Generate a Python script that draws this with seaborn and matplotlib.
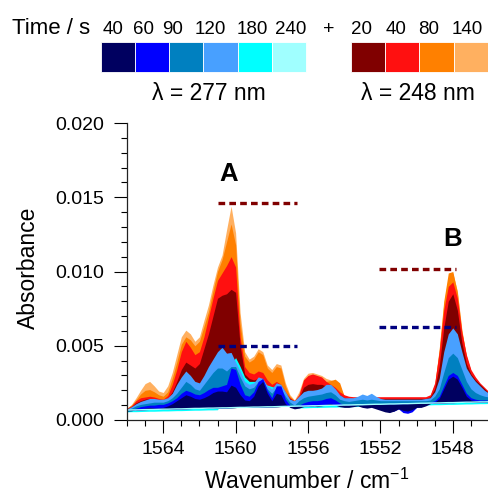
import numpy as np
import matplotlib
matplotlib.use("Agg")
import matplotlib.pyplot as plt
from matplotlib.ticker import MultipleLocator, FormatStrFormatter
import seaborn as sns

# wavenumber grid (cm-1)
wn = [1566.0, 1565.75, 1565.5, 1565.25, 1565.0, 1564.75, 1564.5, 1564.25, 1564.0, 1563.75,
      1563.5, 1563.25, 1563.0, 1562.75, 1562.5, 1562.25, 1562.0, 1561.75, 1561.5, 1561.25,
      1561.0, 1560.75, 1560.5, 1560.25, 1560.0, 1559.75, 1559.5, 1559.25, 1559.0, 1558.75,
      1558.5, 1558.25, 1558.0, 1557.75, 1557.5, 1557.25, 1557.0, 1556.75, 1556.5, 1556.25,
      1556.0, 1555.75, 1555.5, 1555.25, 1555.0, 1554.75, 1554.5, 1554.25, 1554.0, 1553.75,
      1553.5, 1553.25, 1553.0, 1552.75, 1552.5, 1552.25, 1552.0, 1551.75, 1551.5, 1551.25,
      1551.0, 1550.75, 1550.5, 1550.25, 1550.0, 1549.75, 1549.5, 1549.25, 1549.0, 1548.75,
      1548.5, 1548.25, 1548.0, 1547.75, 1547.5, 1547.25, 1547.0, 1546.75, 1546.5, 1546.25,
      1546.0]

# absorbance in mAU, lambda = 248 nm (times 20, 40, 80, 140 s)
r140 = [0.80, 1.05, 1.50, 2.00, 2.45, 2.60, 2.30, 1.95, 1.85, 2.30,
        3.20, 4.40, 5.60, 6.05, 5.80, 5.30, 5.60, 6.70, 7.75, 9.10,
        10.3, 11.1, 12.8, 14.4, 12.6, 7.20, 4.60, 4.10, 4.30, 4.80,
        4.60, 3.70, 3.40, 3.80, 3.70, 2.50, 1.70, 1.35, 1.90, 2.80,
        3.15, 3.20, 3.10, 3.00, 2.80, 2.70, 2.65, 2.30, 1.60, 1.45,
        1.45, 1.45, 1.45, 1.45, 1.45, 1.45, 1.45, 1.45, 1.45, 1.45,
        1.45, 1.45, 1.45, 1.45, 1.45, 1.45, 1.45, 1.60, 2.30, 4.70,
        7.80, 9.60, 9.90, 8.70, 6.10, 4.30, 3.30, 2.80, 2.40, 2.10,
        1.85]
r80 = [0.80, 1.00, 1.35, 1.75, 2.00, 2.05, 1.90, 1.70, 1.60, 1.90,
       2.80, 3.90, 5.10, 5.60, 5.40, 5.00, 5.30, 6.30, 7.30, 8.70,
       10.0, 10.8, 12.0, 13.2, 11.8, 6.50, 4.30, 3.90, 4.10, 4.60,
       4.40, 3.50, 3.20, 3.60, 3.50, 2.30, 1.60, 1.30, 1.70, 2.50,
       2.80, 2.80, 2.70, 2.60, 2.60, 2.65, 2.75, 2.50, 1.60, 1.50,
       1.50, 1.50, 1.50, 1.50, 1.50, 1.50, 1.50, 1.50, 1.50, 1.50,
       1.50, 1.50, 1.50, 1.50, 1.50, 1.50, 1.50, 1.65, 2.40, 4.80,
       8.00, 9.90, 10.0, 8.60, 6.00, 4.30, 3.30, 2.80, 2.40, 2.10,
       1.85]
r40 = [0.80, 0.95, 1.30, 1.50, 1.55, 1.60, 1.55, 1.45, 1.40, 1.65,
       2.40, 3.40, 4.60, 5.30, 4.90, 4.40, 4.60, 5.60, 6.90, 8.20,
       9.40, 9.90, 10.4, 11.0, 10.3, 5.60, 3.60, 3.20, 3.10, 3.30,
       3.20, 2.70, 2.40, 2.60, 2.40, 1.90, 1.50, 1.30, 1.70, 2.70,
       3.00, 3.10, 3.00, 2.90, 2.60, 2.40, 2.20, 1.90, 1.70, 1.60,
       1.57, 1.57, 1.57, 1.57, 1.57, 1.57, 1.57, 1.57, 1.57, 1.57,
       1.57, 1.57, 1.57, 1.57, 1.57, 1.57, 1.57, 1.70, 2.50, 4.60,
       7.40, 9.00, 9.30, 8.20, 5.90, 4.40, 3.40, 2.90, 2.50, 2.20,
       1.90]
r20 = [0.75, 0.90, 1.15, 1.30, 1.40, 1.45, 1.40, 1.35, 1.30, 1.45,
       1.90, 2.60, 3.40, 3.90, 3.70, 3.50, 3.80, 4.80, 5.80, 7.00,
       8.20, 8.40, 8.50, 8.80, 8.60, 5.00, 3.10, 2.80, 2.70, 2.80,
       2.70, 2.30, 2.20, 2.30, 2.20, 1.80, 1.45, 1.25, 1.50, 2.20,
       2.40, 2.45, 2.40, 2.40, 2.30, 2.10, 1.90, 1.70, 1.50, 1.45,
       1.45, 1.45, 1.45, 1.45, 1.45, 1.45, 1.45, 1.45, 1.45, 1.45,
       1.45, 1.45, 1.45, 1.45, 1.45, 1.45, 1.45, 1.55, 2.10, 3.60,
       6.20, 8.00, 8.50, 7.40, 5.20, 3.80, 3.10, 2.70, 2.40, 2.10,
       1.80]

# lambda = 277 nm (times 40, 60, 90, 120, 180, 240 s)
b240 = [0.67, 0.68, 0.68, 0.69, 0.70, 0.71, 0.71, 0.72, 0.73, 0.73,
        0.74, 0.75, 0.75, 0.76, 0.77, 0.78, 0.78, 0.79, 0.80, 0.80,
        0.81, 0.82, 0.82, 0.83, 0.84, 0.85, 0.85, 0.86, 0.87, 0.87,
        0.88, 0.89, 0.89, 0.90, 0.91, 0.92, 0.92, 0.93, 0.94, 0.94,
        0.95, 0.96, 0.96, 0.97, 0.98, 0.99, 0.99, 1.00, 1.01, 1.01,
        1.02, 1.03, 1.03, 1.04, 1.05, 1.06, 1.06, 1.07, 1.08, 1.08,
        1.09, 1.10, 1.10, 1.11, 1.12, 1.13, 1.13, 1.14, 1.15, 1.15,
        1.16, 1.17, 1.17, 1.18, 1.19, 1.20, 1.20, 1.21, 1.22, 1.22,
        1.23]
b180 = [0.55, 0.56, 0.56, 0.57, 0.58, 0.59, 0.59, 0.60, 0.61, 0.61,
        0.62, 0.63, 0.63, 0.64, 0.65, 0.66, 0.66, 0.67, 0.68, 0.68,
        0.69, 1.20, 2.20, 3.80, 4.20, 3.60, 2.90, 2.60, 2.60, 2.60,
        2.50, 2.35, 2.25, 2.20, 2.10, 1.70, 1.20, 0.81, 0.82, 0.82,
        0.83, 0.84, 0.84, 0.85, 0.86, 0.87, 0.87, 0.88, 0.89, 0.89,
        0.90, 0.91, 0.91, 0.92, 0.93, 0.94, 0.94, 0.95, 0.96, 0.96,
        0.97, 0.98, 0.98, 0.99, 1.00, 1.01, 1.01, 1.02, 1.03, 1.03,
        1.04, 1.05, 1.05, 1.06, 1.07, 1.08, 1.08, 1.09, 1.10, 1.10,
        1.11]
b120 = [0.75, 0.90, 1.10, 1.25, 1.35, 1.45, 1.45, 1.40, 1.40, 1.50,
        1.80, 2.40, 2.90, 3.30, 3.00, 2.60, 2.50, 3.00, 3.60, 4.10,
        4.60, 4.90, 4.50, 4.55, 3.90, 3.30, 2.60, 2.40, 2.50, 2.90,
        2.80, 2.30, 2.10, 2.50, 2.40, 1.90, 1.40, 1.30, 1.60, 1.90,
        2.00, 2.00, 2.05, 2.15, 2.40, 2.40, 2.10, 1.70, 1.50, 1.50,
        1.50, 1.60, 1.75, 1.65, 1.80, 1.60, 1.45, 1.40, 1.40, 1.40,
        1.40, 1.40, 1.40, 1.40, 1.40, 1.40, 1.45, 1.50, 1.90, 2.80,
        4.60, 5.80, 6.20, 5.80, 4.60, 3.50, 3.00, 2.60, 2.30, 2.00,
        1.80]
b90 = [0.70, 0.80, 0.95, 1.05, 1.10, 1.15, 1.20, 1.20, 1.20, 1.30,
       1.50, 1.80, 2.20, 2.60, 2.40, 2.10, 2.00, 2.40, 2.80, 3.20,
       3.50, 3.50, 3.30, 3.60, 3.60, 2.90, 2.30, 2.10, 2.20, 2.60,
       2.70, 2.10, 1.80, 2.20, 2.10, 1.60, 1.20, 1.00, 1.30, 1.50,
       1.60, 1.65, 1.70, 1.75, 1.85, 1.90, 1.70, 1.40, 1.30, 1.25,
       1.30, 1.35, 1.40, 1.35, 1.40, 1.35, 1.30, 1.30, 1.30, 1.30,
       1.30, 1.30, 1.30, 1.30, 1.30, 1.30, 1.30, 1.35, 1.60, 2.10,
       3.20, 4.20, 4.50, 4.20, 3.40, 2.60, 2.10, 1.85, 1.70, 1.60,
       1.55]
b60 = [0.65, 0.70, 0.80, 0.90, 0.95, 1.00, 1.00, 1.05, 1.05, 1.15,
       1.30, 1.50, 1.80, 2.00, 1.90, 1.75, 1.70, 1.85, 2.05, 2.20,
       2.20, 2.30, 2.40, 3.50, 3.40, 2.40, 1.70, 1.60, 1.90, 2.60,
       2.80, 2.00, 1.50, 2.30, 2.30, 1.40, 1.00, 0.85, 1.00, 1.15,
       1.25, 1.30, 1.30, 1.35, 1.45, 1.50, 1.35, 1.15, 1.00, 0.95,
       1.00, 1.05, 1.00, 0.95, 0.90, 0.85, 0.75, 0.65, 0.55, 0.60,
       0.75, 0.50, 0.45, 0.55, 0.85, 0.90, 1.00, 1.20, 1.30, 1.60,
       2.30, 3.00, 3.20, 3.00, 2.40, 1.80, 1.50, 1.40, 1.35, 1.35,
       1.35]
b40 = [0.60, 0.62, 0.70, 0.75, 0.80, 0.85, 0.80, 0.80, 0.85, 0.95,
       1.10, 1.30, 1.50, 1.70, 1.60, 1.45, 1.40, 1.50, 1.65, 1.85,
       1.95, 1.95, 1.90, 2.35, 2.20, 1.70, 1.35, 1.30, 1.60, 2.30,
       2.60, 1.80, 1.30, 1.80, 1.70, 1.10, 0.85, 0.75, 0.80, 0.90,
       0.95, 1.00, 0.90, 0.95, 1.05, 1.10, 1.00, 0.90, 0.85, 0.85,
       0.90, 0.95, 0.85, 0.80, 0.85, 0.75, 0.65, 0.55, 0.50, 0.60,
       0.75, 0.65, 0.60, 0.70, 0.85, 0.85, 0.95, 1.10, 1.20, 1.45,
       2.10, 2.75, 2.95, 2.75, 2.20, 1.60, 1.35, 1.30, 1.25, 1.30,
       1.30]

times_277 = ["40", "60", "90", "120", "180", "240"]
colors_277 = ["#000060", "#0000FF", "#0080C0", "#48A0FF", "#00FFFF", "#A0FFFF"]
times_248 = ["20", "40", "80", "140"]
colors_248 = ["#800000", "#FF1010", "#FF8000", "#FFB060"]

# dashed guide levels (mAU) for bands A and B
guide_A = [14.6, 4.99]
guide_B = [10.2, 6.25]

sns.set_theme(style="ticks")
plt.rcParams["font.family"] = ["Liberation Sans", "DejaVu Sans"]
plt.rcParams["mathtext.fontset"] = "custom"
plt.rcParams["mathtext.rm"] = "Liberation Sans"
plt.rcParams["mathtext.it"] = "Liberation Sans:italic"
plt.rcParams["text.color"] = "black"
plt.rcParams["xtick.color"] = "black"
plt.rcParams["ytick.color"] = "black"
plt.rcParams["xtick.labelcolor"] = "black"
plt.rcParams["ytick.labelcolor"] = "black"

x = np.array(wn)
base = np.array(b240) * 1e-3

fig = plt.figure(figsize=(4.89, 4.95), dpi=100)
ax = fig.add_axes([127 / 489, 1 - 420 / 495, 362 / 489, 297 / 495])

# 248 nm spectra behind, largest first
for vals, c in zip([r140, r80, r40, r20], colors_248[::-1]):
    ax.fill_between(x, np.array(vals) * 1e-3, base, color=c, lw=0)
# 277 nm spectra on top
sns.lineplot(x=x, y=base, color=colors_277[5], lw=1, ax=ax)
for vals, c in zip([b180, b120, b90, b60, b40], colors_277[4::-1]):
    ax.fill_between(x, np.array(vals) * 1e-3, base, color=c, lw=0)

dash = (0, (2.0, 1.25))
ax.hlines(guide_A[0] * 1e-3, 1561.0, 1556.6, colors="#800000", linestyles=dash, lw=2.4)
ax.hlines(guide_A[1] * 1e-3, 1561.0, 1556.6, colors="#000080", linestyles=dash, lw=2.4)
ax.hlines(guide_B[0] * 1e-3, 1552.1, 1547.8, colors="#800000", linestyles=dash, lw=2.4)
ax.hlines(guide_B[1] * 1e-3, 1552.1, 1547.8, colors="#000080", linestyles=dash, lw=2.4)
ax.text(1560.37, 0.0161, "A", fontsize=18.5, fontweight="bold", ha="center", va="baseline")
ax.text(1548.0, 0.0117, "B", fontsize=18.5, fontweight="bold", ha="center", va="baseline")

ax.set_xlim(1566, 1546)
ax.set_ylim(0, 0.020)
ax.xaxis.set_major_locator(MultipleLocator(4))
ax.xaxis.set_minor_locator(MultipleLocator(1))
ax.yaxis.set_major_locator(MultipleLocator(0.005))
ax.yaxis.set_minor_locator(MultipleLocator(0.001))
ax.yaxis.set_major_formatter(FormatStrFormatter("%.3f"))
ax.tick_params(which="major", length=9.5, width=0.8, labelsize=14)
ax.tick_params(which="minor", length=4.5, width=0.8)
ax.tick_params(axis="x", which="major", pad=5.3)
ax.tick_params(axis="y", which="major", pad=7.2)
sns.despine(ax=ax)
for s in ["left", "bottom"]:
    ax.spines[s].set_linewidth(0.9)
    ax.spines[s].set_color("#222222")
ax.set_xlabel("")
ax.set_ylabel("")
ax.set_facecolor("white")

fig.text(35 / 489, 1 - 268 / 495, "Absorbance", rotation=90, rotation_mode="anchor",
         ha="center", va="baseline", fontsize=16.5)
fig.text(307 / 489, 1 - 489 / 495, "Wavenumber / cm$^{-1}$", ha="center", va="baseline",
         fontsize=16.5)

# colour key at the top, in pixel coordinates
leg = fig.add_axes([0, 0, 1, 1], zorder=5)
leg.set_xlim(0, 489)
leg.set_ylim(495, 0)
leg.axis("off")
leg.patch.set_visible(False)
w = 34.2
left_277 = 100.7 + w * np.arange(len(times_277))
left_248 = 351.0 + w * np.arange(len(times_248))
leg.bar(left_277, 29.4, width=w, bottom=42.3, align="edge", color=colors_277,
        edgecolor="white", lw=0.6)
leg.bar(left_248, 29.4, width=w, bottom=42.3, align="edge", color=colors_248,
        edgecolor="white", lw=0.6)
for lx, t in zip([113, 144, 173, 210, 252, 291], times_277):
    leg.text(lx, 34, t, fontsize=13.5, ha="center", va="baseline")
for lx, t in zip([362, 396, 429, 467], times_248):
    leg.text(lx, 34, t, fontsize=13.5, ha="center", va="baseline")
leg.text(51, 34.5, "Time / s", fontsize=16, ha="center", va="baseline")
leg.text(329, 34, "+", fontsize=14, ha="center", va="baseline")
leg.text(209, 100, "λ = 277 nm", fontsize=16.5, ha="center", va="baseline")
leg.text(418, 100, "λ = 248 nm", fontsize=16.5, ha="center", va="baseline")

fig.savefig("out.png", dpi=100)
